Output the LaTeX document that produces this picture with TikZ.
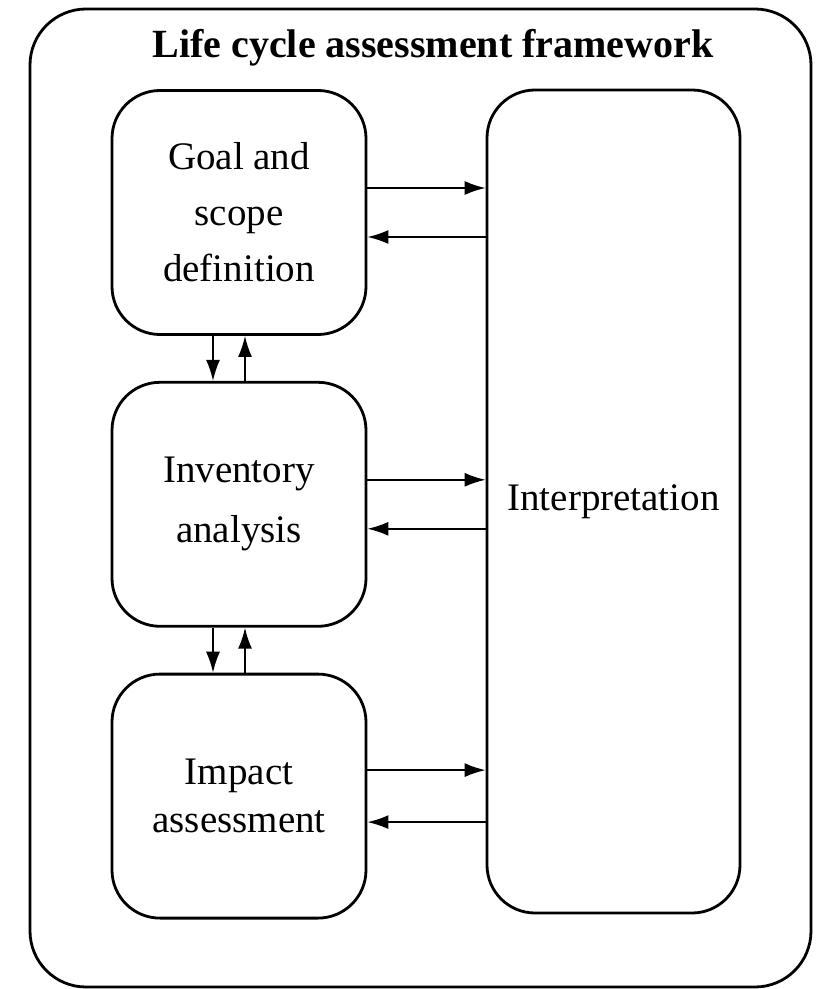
\documentclass[tikz,border=0pt]{standalone}
\usepackage{fontspec}
\setmainfont{Liberation Serif}
\usetikzlibrary{arrows.meta,positioning}

\begin{document}
\begin{tikzpicture}[x=0.5pt,y=-0.5pt,
    box/.style={draw,line width=1.4pt,rounded corners=24pt,align=center,
      minimum width=127pt,minimum height=122pt,inner sep=0pt,
      font=\fontsize{19.5}{28}\selectfont},
    arr/.style={line width=0.9pt,-{Latex[length=10.5pt,width=7pt]}}]
   \useasboundingbox (0,0) rectangle (815,989);
   \node[draw,line width=1.4pt,rounded corners=28pt,minimum width=390.5pt,
     minimum height=489pt,inner sep=0pt] (frame) at (420.5,498) {};
   \node[font=\fontsize{20}{24}\selectfont\bfseries] (title) at (433,48)
     {Life cycle assessment framework};
   \node[box] (goal) at (239,212.5) {Goal and\\scope\\definition};
   \node[box] (inv) [below=22.5pt of goal] {Inventory\\[2pt]analysis};
   \node[box] (imp) [below=22.5pt of inv] {Impact\\[-4pt]assessment};
   \node[box,minimum width=126.5pt,minimum height=411.5pt] (interp)
     at (613.5,501.5) {Interpretation};
    \path[arr]
    ([yshift=12.25pt]goal.east) edge ([yshift=12.25pt]goal.east -| interp.west)
    ([yshift=-12.25pt]goal.east -| interp.west) edge ([yshift=-12.25pt]goal.east)
    ([yshift=12.25pt]inv.east) edge ([yshift=12.25pt]inv.east -| interp.west)
    ([yshift=-12.25pt]inv.east -| interp.west) edge ([yshift=-12.25pt]inv.east)
    ([yshift=13pt]imp.east) edge ([yshift=13pt]imp.east -| interp.west)
    ([yshift=-13pt]imp.east -| interp.west) edge ([yshift=-13pt]imp.east)
    ([xshift=-13pt]goal.south) edge ([xshift=-13pt]goal.south |- inv.north)
    ([xshift=3pt]goal.south |- inv.north) edge ([xshift=3pt]goal.south)
    ([xshift=-13pt]inv.south) edge ([xshift=-13pt]inv.south |- imp.north)
    ([xshift=3pt]inv.south |- imp.north) edge ([xshift=3pt]inv.south);
\end{tikzpicture}
\end{document}
